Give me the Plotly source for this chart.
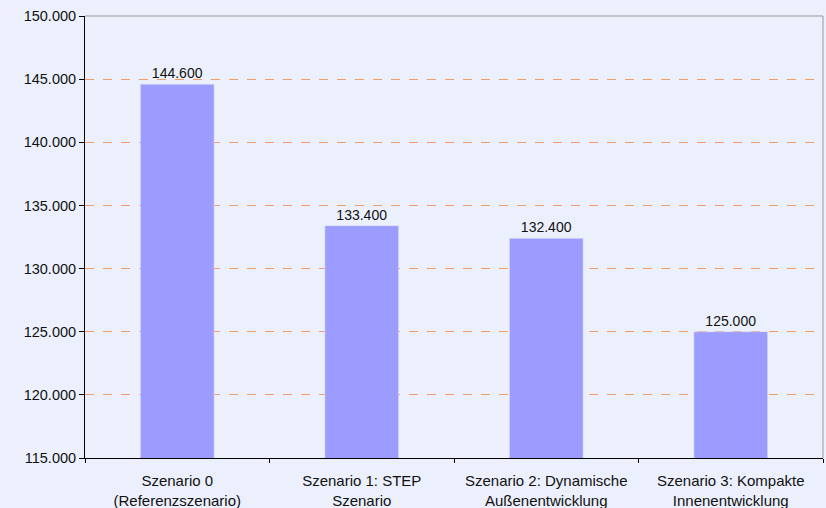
import plotly.graph_objects as go

categories = [
    "Szenario 0<br>(Referenzszenario)",
    "Szenario 1: STEP<br>Szenario",
    "Szenario 2: Dynamische<br>Außenentwicklung",
    "Szenario 3: Kompakte<br>Innenentwicklung",
]
values = [144600, 133400, 132400, 125000]
y_ticks = [115000, 120000, 125000, 130000, 135000, 140000, 145000, 150000]

bg = "#ECF0FD"

fig = go.Figure(
    go.Bar(
        x=categories,
        y=values,
        marker_color="#9C9CFF",
        width=0.4,
        texttemplate="%{y:,.0f}",
        textposition="outside",
        textfont=dict(size=14, color="#111111"),
        cliponaxis=False,
    )
)

fig.update_layout(
    width=826,
    height=508,
    margin=dict(l=85, r=3, t=16, b=50),
    paper_bgcolor=bg,
    plot_bgcolor=bg,
    separators=",.",
    font=dict(family="Liberation Sans, Arial, sans-serif", color="#111111"),
    showlegend=False,
    bargap=0.6,
)

fig.update_yaxes(
    range=[115000, 150000],
    tickvals=y_ticks,
    tickformat=",.0f",
    showgrid=True,
    gridcolor="#F29C68",
    griddash="dash",
    gridwidth=1,
    showline=True,
    linecolor="#000000",
    linewidth=1,
    ticks="outside",
    ticklen=5,
    tickcolor="#000000",
    tickfont=dict(size=14.5),
    zeroline=False,
    automargin=False,
)

fig.update_xaxes(
    showline=True,
    linecolor="#000000",
    linewidth=1,
    ticks="outside",
    ticklen=4,
    tickcolor="#000000",
    tickson="boundaries",
    tickfont=dict(size=15),
    ticklabelstandoff=9,
    showgrid=False,
    automargin=False,
)

# gray frame on top and right side of the plot area
fig.add_shape(type="line", xref="paper", yref="paper", x0=0, x1=1, y0=1, y1=1,
              line=dict(color="#999999", width=1), layer="below")
fig.add_shape(type="line", xref="paper", yref="paper", x0=1, x1=1, y0=0, y1=1,
              line=dict(color="#999999", width=1))

fig.write_html(
    "out.html",
    config={"displayModeBar": False},
    post_script="document.body.style.margin='0';",
)
